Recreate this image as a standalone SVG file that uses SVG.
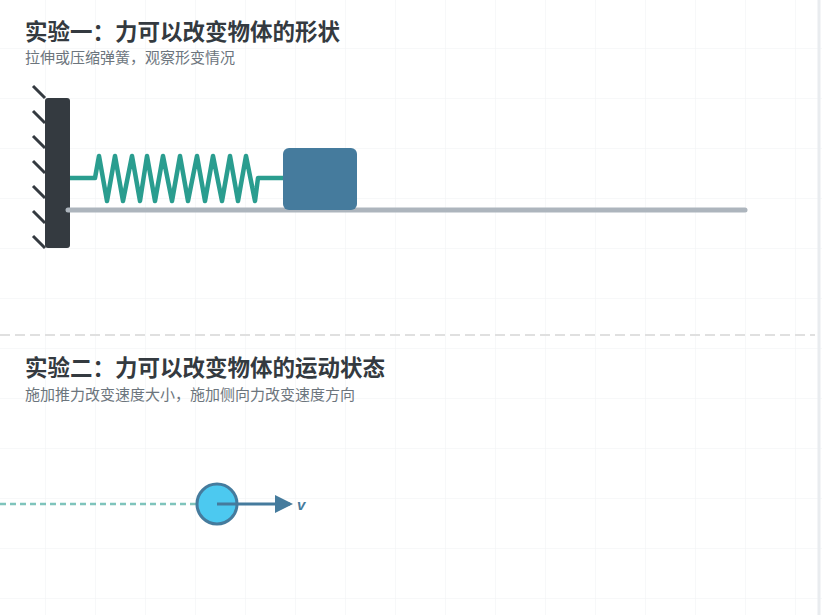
<svg xmlns="http://www.w3.org/2000/svg" width="822" height="615" viewBox="0 0 822 615">
<defs>
<pattern id="grid" x="45" y="48" width="50" height="50" patternUnits="userSpaceOnUse">
<path d="M0 0H50M0 0V50" fill="none" stroke="#f0f1f3" stroke-width="1"/>
</pattern>
<marker id="arr" markerWidth="6" markerHeight="6" refX="5" refY="3" orient="auto" markerUnits="strokeWidth">
<path d="M0 0L6 3L0 6Z" fill="#457b9d"/>
</marker>
<style>
.t{font-family:"Noto Sans CJK SC","Liberation Sans",sans-serif;font-weight:bold;font-size:22.5px;fill:#343a40}
.s{font-family:"Noto Sans CJK SC","Liberation Sans",sans-serif;font-size:15px;fill:#6c757d}
.h{stroke:#343a40;stroke-width:3}
</style>
</defs>
<rect width="822" height="615" fill="#fff"/>
<rect width="822" height="615" fill="url(#grid)"/>
<line x1="819" y1="0" x2="819" y2="615" stroke="#e9ecef" stroke-width="3"/>
<text class="t" x="25" y="40">实验一：力可以改变物体的形状</text>
<text class="s" x="25" y="63">拉伸或压缩弹簧，观察形变情况</text>
<g id="wall">
<g class="h">
<line x1="33" y1="86" x2="45" y2="98"/><line x1="33" y1="111" x2="45" y2="123"/><line x1="33" y1="136" x2="45" y2="148"/><line x1="33" y1="161" x2="45" y2="173"/><line x1="33" y1="186" x2="45" y2="198"/><line x1="33" y1="211" x2="45" y2="223"/><line x1="33" y1="236" x2="45" y2="248"/>
</g>
<rect x="45" y="98" width="25" height="150" rx="3" fill="#343a40"/>
</g>
<g id="floor"><line x1="68" y1="210" x2="745" y2="210" stroke="#adb5bd" stroke-width="5" stroke-linecap="round"/></g>
<g id="spring"><polyline fill="none" stroke="#2a9d8f" stroke-width="4.5" stroke-linejoin="round" points="70,178 95,178 99,156 107,201 115,156 123,201 132,156 140,201 147,156 155,201 163,156 172,201 180,156 188,201 197,156 205,201 213,156 222,201 230,156 238,201 246,156 255,201 258,178 283,178"/></g>
<g id="block"><rect x="283" y="148" width="74" height="62" rx="6" fill="#457b9d"/></g>
<line x1="0" y1="335" x2="815" y2="335" stroke="#e0e0e0" stroke-width="2" stroke-dasharray="10 5"/>
<text class="t" x="25" y="376">实验二：力可以改变物体的运动状态</text>
<text class="s" x="25" y="400">施加推力改变速度大小，施加侧向力改变速度方向</text>
<g id="connectors">
<line x1="0" y1="504" x2="197" y2="504" stroke="#2a9d8f" stroke-opacity="0.6" stroke-width="2.5" stroke-dasharray="6 4"/>
</g>
<g id="ball"><circle cx="217" cy="504" r="20" fill="#4cc9f0" stroke="#457b9d" stroke-width="3"/></g>
<g id="velocity">
<line x1="217" y1="504" x2="290" y2="504" stroke="#457b9d" stroke-width="3" marker-end="url(#arr)"/>
<text x="297" y="510" font-family="Liberation Sans,sans-serif" font-size="15" font-weight="bold" font-style="italic" fill="#457b9d">v</text>
</g>
</svg>
